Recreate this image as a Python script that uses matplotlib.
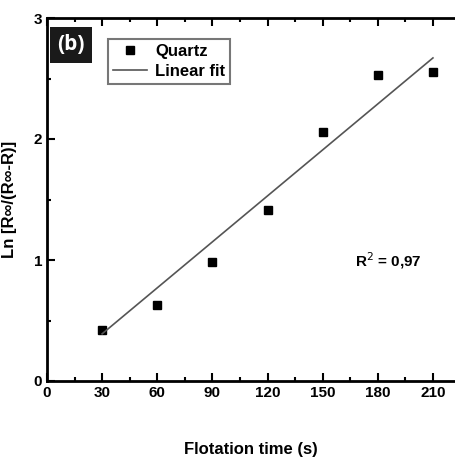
import numpy as np
import matplotlib.pyplot as plt
from matplotlib.ticker import MultipleLocator

plt.rcParams['font.family'] = ['Liberation Sans Narrow', 'Liberation Sans', 'DejaVu Sans']

time = [30, 60, 90, 120, 150, 180, 210]
ln_r = [0.42, 0.63, 0.98, 1.41, 2.06, 2.53, 2.55]
fit_x = [30, 210]
fit_y = [0.39, 2.67]

fig = plt.figure(figsize=(4.55, 4.57), dpi=100)
ax = fig.add_axes([47/455, 1 - 381/457, (455-47)/455, (381-18)/457])

ax.plot(time, ln_r, 's', color='black', markersize=6, label='Quartz')
ax.plot(fit_x, fit_y, '-', color='#555555', lw=1.2, label='Linear fit')

ax.set_xlim(0, 222)
ax.set_ylim(0, 3)
ax.xaxis.set_major_locator(MultipleLocator(30))
ax.xaxis.set_minor_locator(MultipleLocator(15))
ax.yaxis.set_major_locator(MultipleLocator(1))
ax.yaxis.set_minor_locator(MultipleLocator(0.5))
ax.tick_params(which='both', direction='in', top=True, width=1.5, labelsize=11)
ax.tick_params(which='major', length=6)
ax.tick_params(which='minor', length=3)
ax.spines['right'].set_visible(False)
for s in ['left', 'bottom', 'top']:
    ax.spines[s].set_linewidth(2)
for lab in ax.get_xticklabels() + ax.get_yticklabels():
    lab.set_fontweight('bold')

ax.set_xlabel('Flotation time (s)', fontsize=12, fontweight='bold', labelpad=30)
ax.set_ylabel('Ln [R\u221e/(R\u221e-R)]', fontsize=12, fontweight='bold', labelpad=12)

leg = ax.legend(loc='upper left', bbox_to_anchor=(0.13, 0.965), fontsize=12,
                frameon=True, fancybox=False, edgecolor='#555555',
                handlelength=2.0, handletextpad=0.5, borderpad=0.3, labelspacing=0.3)
leg.get_frame().set_linewidth(1.5)
for t in leg.get_texts():
    t.set_fontweight('bold')

ax.text(0.025, 0.955, '(b)', transform=ax.transAxes, fontsize=15, fontweight='bold',
        color='white', va='top', ha='left',
        bbox=dict(boxstyle='square,pad=0.35', facecolor='#1a1a1a', edgecolor='none'),
        family=['Open Sans', 'DejaVu Sans'])

ax.text(186, 0.95, 'R$^2$ = 0,97', fontsize=11, fontweight='bold', ha='center')

fig.savefig('out.png', dpi=100)
